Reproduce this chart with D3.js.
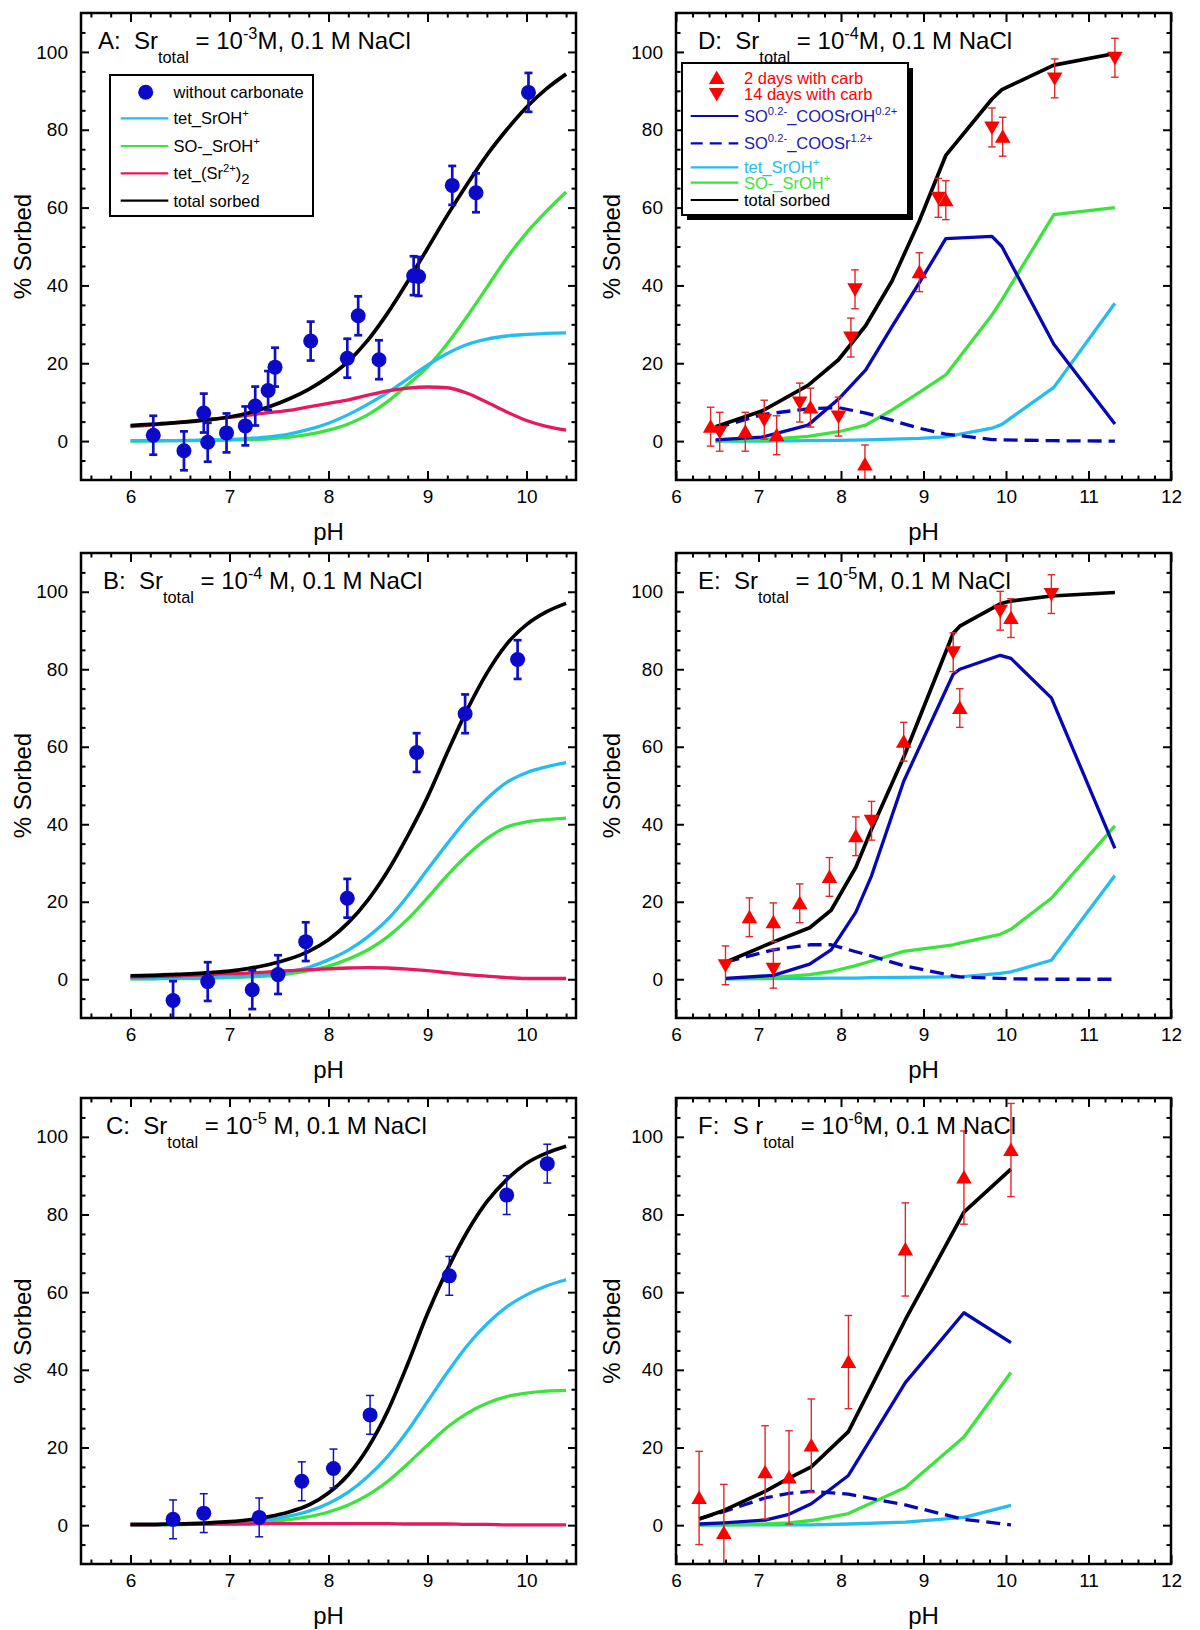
<!DOCTYPE html>
<html><head><meta charset="utf-8">
<script src="https://cdn.jsdelivr.net/npm/d3@7"></script>
<style>
body{margin:0;background:#fff;}
svg{display:block;font-family:"Liberation Sans",Arial,Helvetica,sans-serif;}
text{white-space:pre;}
</style></head><body>
<svg id="chart" width="1200" height="1630"></svg>
<script>
// ---------- tick labels ----------
const xTicksLeft = [6,7,8,9,10];
const xTicksRight = [6,7,8,9,10,11,12];
const yTicks = [0,20,40,60,80,100];

// ---------- model pH grid for smooth panels A,B,C ----------
const phModelABC = [6.0,6.2,6.4,6.6,6.8,7.0,7.2,7.4,7.6,7.8,8.0,8.2,8.4,8.6,8.8,9.0,9.2,9.4,9.6,9.8,10.0,10.2,10.4];

// ---------- Panel A ----------
const phA   = [6.23,6.54,6.74,6.78,6.97,7.16,7.26,7.39,7.46,7.82,8.19,8.30,8.51,8.86,8.91,9.25,9.49,10.02];
const sorbA = [1.5,-2.5,7.2,-0.3,2.1,3.9,9.0,13.0,19.0,25.7,21.3,32.2,20.9,42.5,42.3,65.7,63.8,89.6];
const errA  = [5,5,5,5,5,5,5,5,5,5,5,5,5,5,5,5,5,5];
const totalA  = [4.0,4.3,4.6,5.0,5.5,6.2,7.3,8.8,10.8,13.3,16.5,20.5,26.0,33.0,41.0,49.5,58.0,66.0,73.5,80.0,85.8,90.5,94.3];
const tetOHA  = [0.1,0.1,0.1,0.2,0.3,0.4,0.7,1.1,1.8,3.0,4.6,6.8,9.5,12.5,16.0,19.5,22.5,24.8,26.2,27.0,27.4,27.7,27.8];
const soOHA   = [0,0,0.1,0.1,0.2,0.3,0.4,0.6,1.0,1.7,2.8,4.4,6.8,10.2,14.5,19.0,25.0,32.0,39.5,47.0,53.5,59.0,64.0];
const tetSr2A = [3.7,4.1,4.6,5.1,5.6,6.1,6.7,7.3,7.9,8.8,9.7,10.6,11.8,12.9,13.6,13.9,13.7,12.3,10.0,7.5,5.3,3.8,2.8];

// ---------- Panel B ----------
const phB   = [6.43,6.78,7.23,7.49,7.77,8.19,8.89,9.38,9.91];
const sorbB = [-5.5,-0.6,-2.7,1.2,9.7,20.9,58.5,68.5,82.5];
const errB  = [5,5,5,5,5,5,5,5,5];
const totalB  = [0.9,1.0,1.2,1.4,1.7,2.1,2.8,3.8,5.2,7.2,10.2,14.6,20.5,28.0,37.0,47.0,58.5,69.5,79.0,86.5,91.5,94.8,97.0];
const tetOHB  = [0.2,0.2,0.3,0.3,0.4,0.6,0.8,1.2,1.9,3.1,5.0,7.5,11.0,15.5,21.5,28.3,35.0,41.3,46.6,50.8,53.3,54.8,55.9];
const soOHB   = [0.1,0.1,0.2,0.2,0.3,0.4,0.6,0.9,1.4,2.2,3.4,5.2,7.6,11.0,15.5,21.0,26.8,32.0,36.3,39.3,40.6,41.2,41.6];
const tetSr2B = [0.6,0.7,0.8,1.0,1.2,1.4,1.6,1.9,2.2,2.5,2.7,2.9,3.0,2.9,2.6,2.2,1.7,1.2,0.8,0.4,0.2,0.2,0.2];

// ---------- Panel C ----------
const phC   = [6.43,6.74,7.30,7.73,8.05,8.42,9.22,9.80,10.21];
const sorbC = [1.5,3.1,2.0,11.3,14.6,28.4,64.2,85.0,93.1];
const errC  = [5,5,5,5,5,5,5,5,5];
const totalC  = [0.2,0.2,0.3,0.4,0.6,0.9,1.4,2.2,3.4,5.2,8.3,13.0,20.0,29.5,41.5,54.5,65.8,75.5,83.3,89.0,93.2,95.8,97.6];
const tetOHC  = [0.1,0.1,0.2,0.3,0.4,0.6,0.9,1.4,2.3,3.6,5.6,8.5,12.6,17.8,24.3,31.8,39.3,46.2,51.8,56.2,59.3,61.6,63.2];
const soOHC   = [0.1,0.1,0.1,0.2,0.3,0.4,0.6,0.9,1.4,2.2,3.4,5.2,7.8,11.3,15.8,20.6,25.2,28.8,31.4,33.1,34.0,34.5,34.7];
const tetSr2C = [0.1,0.1,0.2,0.2,0.3,0.3,0.3,0.4,0.4,0.4,0.4,0.4,0.4,0.4,0.3,0.3,0.3,0.2,0.2,0.1,0.1,0.1,0.1];

// ---------- Panel D ----------
const phDup   = [6.42,6.84,7.22,7.63,8.29,8.95,9.27,9.96];
const sorbDup = [3.7,2.4,1.5,8.6,-6.0,43.4,61.9,78.2];
const errDup  = [5,5,5,5,5,5,5,5];
const phDdn   = [6.53,7.07,7.50,7.97,8.12,8.17,9.18,9.83,10.59,11.32];
const sorbDdn = [2.4,5.5,9.9,6.3,26.6,39.0,62.5,80.6,93.2,98.5];
const errDdn  = [5,5,5,5,5,5,5,5,5,5];
const phDm     = [6.48,7.04,7.60,7.97,8.30,8.62,8.95,9.27,9.83,9.95,10.58,11.32];
const totalD   = [3.7,7.7,14.3,20.9,29.7,41.2,56.6,73.4,87.9,90.3,96.6,99.6];
const cooOHD   = [0.3,1.0,4.1,10.8,18.3,29.5,40.7,52.0,52.6,50.0,24.9,4.4];
const cooSrD   = [3.3,6.8,8.3,8.6,7.2,5.3,3.3,1.8,0.4,0.3,0.1,0.0];
const tetOHD   = [0.0,0.0,0.1,0.2,0.3,0.5,0.7,1.1,3.3,4.3,13.8,35.4];
const soOHD    = [0.0,0.3,1.2,2.4,4.1,8.0,12.5,17.0,32.4,36.3,58.2,60.0];

// ---------- Panel E ----------
const phEup   = [6.89,7.18,7.50,7.86,8.18,8.76,9.44,10.06];
const sorbEup = [16.0,14.7,19.6,26.4,36.9,61.3,70.0,93.2];
const errEup  = [5,5,5,5,5,5,5,5];
const phEdn   = [6.60,7.18,8.37,9.36,9.93,10.55];
const sorbEdn = [3.6,2.7,40.9,84.4,95.1,99.4];
const errEdn  = [5,5,5,5,5,5];
const phEm     = [6.60,7.18,7.62,7.88,8.18,8.37,8.76,9.36,9.44,9.93,10.06,10.55,11.32];
const totalE   = [4.4,9.6,13.3,17.8,28.9,38.7,57.3,89.3,91.1,96.9,97.6,98.9,99.8];
const cooOHE   = [0.2,1.0,3.9,7.6,17.3,26.7,51.1,78.7,80.0,83.6,82.8,72.6,33.8];
const cooSrE   = [4.4,7.6,8.9,8.9,7.1,6.0,3.5,0.9,0.6,0.2,0.1,0.0,0.0];
const tetOHE   = [0.1,0.2,0.2,0.3,0.3,0.4,0.5,0.6,0.6,1.5,1.9,4.9,26.8];
const soOHE    = [0.1,0.5,1.2,2.0,3.5,4.7,7.2,8.9,9.3,11.6,12.9,20.9,39.6];

// ---------- Panel F ----------
const phFup   = [6.28,6.58,7.08,7.37,7.64,8.09,8.78,9.49,10.06];
const sorbFup = [7.0,-2.0,13.6,12.3,20.5,42.0,71.0,89.5,96.6];
const errFup  = [12,12.5,12,12,12,12,12,12,12];
const phFm     = [6.28,6.58,7.08,7.37,7.64,8.09,8.78,9.49,10.06];
const totalF   = [1.6,3.8,8.7,12.1,15.0,24.1,52.9,80.6,91.7];
const cooOHF   = [0.3,0.6,1.3,2.8,5.5,12.8,36.7,54.7,47.0];
const cooSrF   = [1.6,3.5,7.0,8.2,8.7,8.0,5.2,1.5,0.1];
const tetOHF   = [0.1,0.1,0.1,0.1,0.1,0.3,0.8,2.0,5.1];
const soOHF    = [0.0,0.1,0.3,0.6,1.2,3.0,9.7,22.7,39.3];

// ---------- colours ----------
const C_BLACK = "#000000", C_CYAN = "#25BDF0", C_GREEN = "#3DE33D", C_PINK = "#E6195F",
      C_NAVY = "#0707B4", C_DOT = "#0A0AC8", C_RED = "#FF0000", C_REDERR = "#E02828";

const svg = d3.select("#chart");
svg.append("rect").attr("width",1200).attr("height",1630).attr("fill","#fff");

function rich(parent, x, yb, parts, size, color, anchor) {
  const t = parent.append("text").attr("x", x).attr("y", yb).attr("font-size", size)
    .attr("fill", color).attr("text-anchor", anchor || "start");
  let cur = 0;
  parts.forEach(p => {
    const str = p[0], kind = p[1];
    let shift = 0, fs = size;
    if (kind === "sup") { shift = -size * (p[2] || 0.42); fs = size * (p[3] || 0.68); }
    if (kind === "sub") { shift = size * (p[2] || 0.58); fs = size * (p[3] || 0.68); }
    t.append("tspan").attr("dy", shift - cur).attr("font-size", fs).text(str);
    cur = shift;
  });
  return t;
}

function panel(cfg) {
  const W = cfg.w, H = cfg.h;
  const g = svg.append("g").attr("transform", `translate(${cfg.x0},${cfg.y0})`);
  const x = d3.scaleLinear().domain(cfg.xDomain).range([0, W]);
  const y = d3.scaleLinear().domain([-10, 110]).range([H, 0]);
  const cid = "clip" + cfg.id;
  g.append("clipPath").attr("id", cid).append("rect").attr("width", W).attr("height", H);

  // axes (ticks inward on all sides)
  const xMinor = d3.range(Math.ceil(cfg.xDomain[0] * 5) / 5, cfg.xDomain[1] + 1e-9, 0.2)
    .filter(v => Math.abs(v - Math.round(v)) > 1e-6);
  const yMinor = d3.range(-5, 110, 5).filter(v => v % 20 !== 0);
  const fmt = d3.format("d");
  const axes = [
    [d3.axisBottom(x).tickValues(xMinor).tickSize(-4.5).tickFormat(""), `translate(0,${H})`],
    [d3.axisBottom(x).tickValues(cfg.xTicks).tickSize(-9).tickPadding(9.5).tickFormat(fmt), `translate(0,${H})`],
    [d3.axisTop(x).tickValues(xMinor).tickSize(-4.5).tickFormat(""), null],
    [d3.axisTop(x).tickValues(cfg.xTicks).tickSize(-9).tickFormat(""), null],
    [d3.axisLeft(y).tickValues(yMinor).tickSize(-4.5).tickFormat(""), null],
    [d3.axisLeft(y).tickValues(yTicks).tickSize(-8).tickPadding(13).tickFormat(fmt), null],
    [d3.axisRight(y).tickValues(yMinor).tickSize(-4.5).tickFormat(""), `translate(${W},0)`],
    [d3.axisRight(y).tickValues(yTicks).tickSize(-8).tickFormat(""), `translate(${W},0)`]
  ];
  axes.forEach(([ax, tr]) => {
    const a = g.append("g").call(ax);
    if (tr) a.attr("transform", tr);
    a.select(".domain").remove();
    a.selectAll(".tick line").attr("stroke", "#000").attr("stroke-width", 2);
    a.selectAll(".tick text").attr("font-size", 19).attr("fill", "#000")
      .attr("font-family", '"Liberation Sans",Arial,Helvetica,sans-serif');
  });

  const plot = g.append("g").attr("clip-path", `url(#${cid})`);
  const line = d3.line().x(d => x(d[0])).y(d => y(d[1]))
    .curve(cfg.smooth ? d3.curveMonotoneX : d3.curveLinear);
  cfg.lines.forEach(L => {
    plot.append("path").datum(L.ph.map((p, i) => [p, L.v[i]])).attr("d", line)
      .attr("fill", "none").attr("stroke", L.color).attr("stroke-width", L.w || 3.3)
      .attr("stroke-dasharray", L.dash || null).attr("stroke-linejoin", "round");
  });
  cfg.points.forEach(P => {
    const data = P.ph.map((p, i) => ({ x: p, y: P.v[i], e: P.e[i] }));
    const eb = plot.append("g").attr("stroke", P.errColor).attr("stroke-width", P.errW);
    data.forEach(d => {
      eb.append("line").attr("x1", x(d.x)).attr("x2", x(d.x))
        .attr("y1", y(d.y - d.e)).attr("y2", y(d.y + d.e));
      [d.y - d.e, d.y + d.e].forEach(v => eb.append("line")
        .attr("x1", x(d.x) - P.cap).attr("x2", x(d.x) + P.cap).attr("y1", y(v)).attr("y2", y(v)));
    });
  });
  cfg.points.forEach(P => {
    const data = P.ph.map((p, i) => ({ x: p, y: P.v[i] }));
    if (P.shape === "circle") {
      plot.append("g").selectAll("circle").data(data).join("circle")
        .attr("cx", d => x(d.x)).attr("cy", d => y(d.y)).attr("r", 7.5).attr("fill", P.color);
    } else {
      plot.append("g").selectAll("path").data(data).join("path")
        .attr("d", d3.symbol(d3.symbolTriangle, 105))
        .attr("transform", d => `translate(${x(d.x)},${y(d.y) + (P.shape === "down" ? -1.5 : 1.5)}) rotate(${P.shape === "down" ? 180 : 0})`)
        .attr("fill", P.color);
    }
  });

  // frame
  g.append("rect").attr("width", W).attr("height", H).attr("fill", "none")
    .attr("stroke", "#000").attr("stroke-width", 2.5);

  // title
  rich(g, cfg.titleX, 36, cfg.title, 24, "#000");
  // axis titles
  g.append("text").attr("x", W / 2).attr("y", H + 60).attr("text-anchor", "middle")
    .attr("font-size", 24).attr("fill", "#000").text("pH");
  g.append("text").attr("transform", `translate(${cfg.yLabX},${H / 2}) rotate(-90)`)
    .attr("text-anchor", "middle").attr("dy", "0.35em").attr("font-size", 24)
    .attr("fill", "#000").text("% Sorbed");
  return g;
}

const LEFT = { x0: 81, w: 495, xDomain: [5.5, 10.5], xTicks: xTicksLeft, yLabX: -58 };
const RIGHT = { x0: 676, w: 495, xDomain: [6, 12], xTicks: xTicksRight, yLabX: -64 };
const ROWS = [{ y0: 13, h: 467 }, { y0: 553, h: 465 }, { y0: 1098, h: 466 }];

function smoothLines(t, c, g, p) {
  return [
    { ph: phModelABC, v: g, color: C_GREEN },
    { ph: phModelABC, v: c, color: C_CYAN },
    { ph: phModelABC, v: p, color: C_PINK },
    { ph: phModelABC, v: t, color: C_BLACK, w: 3.7 }
  ];
}
function carbLines(ph, t, oh, sr, tet, so) {
  return [
    { ph: ph, v: tet, color: C_CYAN },
    { ph: ph, v: so, color: C_GREEN },
    { ph: ph, v: sr, color: C_NAVY, dash: "14,7" },
    { ph: ph, v: oh, color: C_NAVY },
    { ph: ph, v: t, color: C_BLACK, w: 3.7 }
  ];
}
const blueDots = (ph, v, e, w) => ({ ph, v, e, shape: "circle", color: C_DOT, errColor: "#1010BC", errW: w, cap: 4 });
const redTri = (ph, v, e, shape) => ({ ph, v, e, shape, color: C_RED, errColor: C_REDERR, errW: 1.4, cap: 3.8 });

const gA = panel(Object.assign({}, LEFT, ROWS[0], { id: "A", smooth: true, titleX: 17,
  title: [["A:  Sr"], ["total", "sub"], [" = 10"], ["-3", "sup"], ["M, 0.1 M NaCl"]],
  lines: smoothLines(totalA, tetOHA, soOHA, tetSr2A),
  points: [blueDots(phA, sorbA, errA, 2.7)] }));
const gB = panel(Object.assign({}, LEFT, ROWS[1], { id: "B", smooth: true, titleX: 22,
  title: [["B:  Sr"], ["total", "sub"], [" = 10"], ["-4", "sup"], [" M, 0.1 M NaCl"]],
  lines: smoothLines(totalB, tetOHB, soOHB, tetSr2B),
  points: [blueDots(phB, sorbB, errB, 2.7)] }));
const gC = panel(Object.assign({}, LEFT, ROWS[2], { id: "C", smooth: true, titleX: 25,
  title: [["C:  Sr"], ["total", "sub"], [" = 10"], ["-5", "sup"], [" M, 0.1 M NaCl"]],
  lines: smoothLines(totalC, tetOHC, soOHC, tetSr2C),
  points: [blueDots(phC, sorbC, errC, 1.5)] }));
const gD = panel(Object.assign({}, RIGHT, ROWS[0], { id: "D", smooth: false, titleX: 22,
  title: [["D:  Sr"], ["total", "sub"], [" = 10"], ["-4", "sup"], ["M, 0.1 M NaCl"]],
  lines: carbLines(phDm, totalD, cooOHD, cooSrD, tetOHD, soOHD),
  points: [redTri(phDup, sorbDup, errDup, "up"), redTri(phDdn, sorbDdn, errDdn, "down")] }));
const gE = panel(Object.assign({}, RIGHT, ROWS[1], { id: "E", smooth: false, titleX: 22,
  title: [["E:  Sr"], ["total", "sub"], [" = 10"], ["-5", "sup"], ["M, 0.1 M NaCl"]],
  lines: carbLines(phEm, totalE, cooOHE, cooSrE, tetOHE, soOHE),
  points: [redTri(phEup, sorbEup, errEup, "up"), redTri(phEdn, sorbEdn, errEdn, "down")] }));
const gF = panel(Object.assign({}, RIGHT, ROWS[2], { id: "F", smooth: false, titleX: 22,
  title: [["F:  S r"], ["total", "sub"], [" = 10"], ["-6", "sup"], ["M, 0.1 M NaCl"]],
  lines: carbLines(phFm, totalF, cooOHF, cooSrF, tetOHF, soOHF),
  points: [redTri(phFup, sorbFup, errFup, "up")] }));

// ---------- Legend A ----------
(function () {
  const L = svg.append("g");
  L.append("rect").attr("x", 110).attr("y", 75).attr("width", 203).attr("height", 141)
    .attr("fill", "#fff").attr("stroke", "#000").attr("stroke-width", 2);
  L.append("circle").attr("cx", 145.7).attr("cy", 92.3).attr("r", 7.5).attr("fill", C_DOT);
  rich(L, 173.5, 98, [["without carbonate"]], 16.5, "#000");
  const rows = [
    [118.3, C_CYAN, [["tet_SrOH"], ["+", "sup"]]],
    [146, C_GREEN, [["SO-_SrOH"], ["+", "sup"]]],
    [173.3, C_PINK, [["tet_(Sr"], ["2+", "sup"], [")"], ["2", "sub", 0.3, 0.9]]],
    [200.7, C_BLACK, [["total sorbed"]]]
  ];
  rows.forEach(r => {
    L.append("line").attr("x1", 120.7).attr("x2", 168.3).attr("y1", r[0]).attr("y2", r[0])
      .attr("stroke", r[1]).attr("stroke-width", 2.2);
    rich(L, 173.5, r[0] + 6, r[2], 16.5, "#000");
  });
})();

// ---------- Legend D ----------
(function () {
  const L = svg.append("g");
  L.append("rect").attr("x", 687).attr("y", 68).attr("width", 226).attr("height", 152).attr("fill", "#000");
  L.append("rect").attr("x", 682).attr("y", 63).attr("width", 226).attr("height", 152)
    .attr("fill", "#fff").attr("stroke", "#000").attr("stroke-width", 2);
  L.append("path").attr("d", d3.symbol(d3.symbolTriangle, 105)).attr("fill", C_RED)
    .attr("transform", "translate(716.7,79.5)");
  L.append("path").attr("d", d3.symbol(d3.symbolTriangle, 105)).attr("fill", C_RED)
    .attr("transform", "translate(716.7,92.5) rotate(180)");
  rich(L, 744, 84, [["2 days with carb"]], 16.5, C_RED);
  rich(L, 744, 99.5, [["14 days with carb"]], 16.5, C_RED);
  const rows = [
    [116, C_NAVY, null, "#1A1AB0", [["SO"], ["0.2-", "sup"], ["_COOSrOH"], ["0.2+", "sup"]]],
    [143.3, C_NAVY, "12,7", "#1A1AB0", [["SO"], ["0.2-", "sup"], ["_COOSr"], ["1.2+", "sup"]]],
    [167.3, C_CYAN, null, C_CYAN, [["tet_SrOH"], ["+", "sup"]]],
    [182.7, C_GREEN, null, C_GREEN, [["SO-_SrOH"], ["+", "sup"]]],
    [200, C_BLACK, null, "#000", [["total sorbed"]]]
  ];
  rows.forEach(r => {
    L.append("line").attr("x1", 690.7).attr("x2", 738.3).attr("y1", r[0]).attr("y2", r[0])
      .attr("stroke", r[1]).attr("stroke-width", 2.2).attr("stroke-dasharray", r[2]);
    rich(L, 744, r[0] + 6, r[4], 16.5, r[3]);
  });
})();
</script></body></html>
